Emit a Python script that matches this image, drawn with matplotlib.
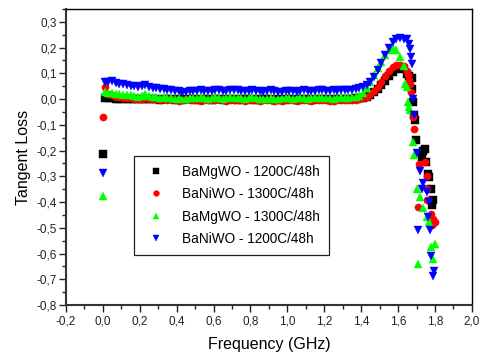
# -*- coding: utf-8 -*-
"""Tangent loss vs frequency for the four BaMgWO / BaNiWO samples."""

import matplotlib
matplotlib.use("Agg")
import matplotlib.pyplot as plt
from matplotlib.ticker import MultipleLocator, FuncFormatter

plt.rcParams["font.family"] = ["Liberation Sans", "DejaVu Sans"]

# shared sweep grid (GHz); the x=0 point of each run is kept separately
FREQ = [
    0.01, 0.03, 0.05, 0.07, 0.09, 0.11, 0.13, 0.15, 0.17, 0.19,
    0.21, 0.23, 0.25, 0.27, 0.29, 0.31, 0.33, 0.35, 0.37, 0.39,
    0.41, 0.43, 0.45, 0.47, 0.49, 0.51, 0.53, 0.55, 0.57, 0.59,
    0.61, 0.63, 0.65, 0.67, 0.69, 0.71, 0.73, 0.75, 0.77, 0.79,
    0.81, 0.83, 0.85, 0.87, 0.89, 0.91, 0.93, 0.95, 0.97, 0.99,
    1.01, 1.03, 1.05, 1.07, 1.09, 1.11, 1.13, 1.15, 1.17, 1.19,
    1.21, 1.23, 1.25, 1.27, 1.29, 1.31, 1.33, 1.35, 1.37, 1.39,
    1.41, 1.43, 1.45, 1.47, 1.49, 1.51, 1.53, 1.55, 1.57, 1.59,
    1.61, 1.63,
]

LABELS = ["BaMgWO - 1200C/48h", "BaNiWO - 1300C/48h",
          "BaMgWO - 1300C/48h", "BaNiWO - 1200C/48h"]
COLORS = ["#000000", "#ff0000", "#00ff00", "#0000ff"]
MARKERS = ["s", "o", "^", "v"]

# value at f = 0 (first point of each sweep)
START = [-0.214, -0.070, -0.378, -0.289]

MGWO_1200 = [
    0.006, 0.004, 0.003, 0.002, 0.001, 0.000, 0.001, 0.002, 0.000, -0.001,
    0.001, 0.002, 0.000, -0.001, 0.001, -0.002, 0.000, -0.001, 0.001, -0.002,
    0.000, -0.002, 0.001, -0.001, 0.000, -0.002, -0.001, 0.001, 0.000, -0.002,
    -0.001, 0.001, -0.002, 0.000, -0.001, 0.001, -0.002, 0.000, -0.001, 0.001,
    0.000, -0.002, -0.001, 0.001, 0.000, -0.001, -0.003, 0.000, -0.002, 0.001,
    -0.001, 0.000, -0.002, 0.001, 0.000, -0.001, -0.002, 0.000, 0.001, -0.001,
    0.000, -0.002, -0.001, 0.001, 0.000, 0.001, 0.000, 0.002, 0.003, 0.004,
    0.006, 0.010, 0.016, 0.026, 0.038, 0.054, 0.072, 0.090, 0.106, 0.115,
    0.120, 0.118,
]
NIWO_1300 = [
    0.047, 0.018, 0.014, 0.010, 0.008, 0.006, 0.004, 0.005, 0.002, 0.000,
    0.002, 0.004, 0.001, -0.001, 0.000, -0.002, 0.000, -0.003, -0.001, -0.004,
    -0.006, -0.003, -0.001, -0.004, -0.002, -0.003, -0.006, -0.004, -0.002, -0.005,
    -0.003, -0.001, -0.004, -0.006, -0.003, -0.002, -0.005, -0.003, -0.006, -0.004,
    -0.002, -0.004, -0.007, -0.005, -0.003, -0.005, -0.008, -0.004, -0.006, -0.003,
    -0.005, -0.003, -0.006, -0.004, -0.002, -0.004, -0.006, -0.003, -0.005, -0.002,
    -0.004, -0.006, -0.008, -0.005, -0.003, -0.005, -0.003, -0.004, -0.002, 0.000,
    0.004, 0.010, 0.018, 0.030, 0.046, 0.066, 0.088, 0.108, 0.124, 0.132,
    0.134, 0.128,
]
MGWO_1300 = [
    0.028, 0.025, 0.022, 0.020, 0.018, 0.016, 0.014, 0.015, 0.012, 0.010,
    0.012, 0.018, 0.011, 0.008, 0.007, 0.005, 0.008, 0.006, 0.004, 0.002,
    0.003, 0.000, 0.002, 0.005, 0.003, 0.004, 0.007, 0.003, 0.002, 0.005,
    0.007, 0.004, 0.002, 0.005, 0.008, 0.006, 0.003, 0.005, 0.002, 0.004,
    0.007, 0.004, 0.001, -0.001, 0.002, 0.005, 0.002, 0.000, 0.003, 0.006,
    0.004, 0.001, 0.003, 0.006, 0.004, 0.002, 0.005, 0.007, 0.004, 0.003,
    0.006, 0.004, 0.002, 0.005, 0.007, 0.004, 0.006, 0.008, 0.010, 0.013,
    0.025, 0.045, 0.068, 0.095, 0.120, 0.145, 0.170, 0.190, 0.200, 0.190,
    0.165, 0.130,
]
NIWO_1200 = [
    0.068, 0.066, 0.069, 0.063, 0.060, 0.057, 0.055, 0.052, 0.050, 0.048,
    0.052, 0.055, 0.047, 0.044, 0.042, 0.040, 0.038, 0.036, 0.035, 0.033,
    0.030, 0.025, 0.028, 0.031, 0.030, 0.032, 0.035, 0.031, 0.030, 0.033,
    0.036, 0.034, 0.031, 0.033, 0.035, 0.037, 0.034, 0.032, 0.030, 0.033,
    0.036, 0.033, 0.030, 0.028, 0.031, 0.034, 0.031, 0.029, 0.027, 0.030,
    0.033, 0.031, 0.029, 0.032, 0.035, 0.032, 0.030, 0.033, 0.036, 0.034,
    0.031, 0.033, 0.035, 0.032, 0.034, 0.036, 0.034, 0.037, 0.039, 0.042,
    0.046, 0.055, 0.065, 0.085, 0.112, 0.140, 0.170, 0.200, 0.220, 0.232,
    0.236, 0.234,
]

# scattered points past the loss peak (freq, value) per run
MGWO_1200_TAIL_F = [1.647, 1.66, 1.674, 1.677, 1.683, 1.686, 1.692, 1.697, 1.728,
                    1.736, 1.746, 1.751, 1.76, 1.769, 1.78, 1.79, 1.785]
MGWO_1200_TAIL = [0.099, 0.088, 0.080, 0.041, -0.011, -0.063, -0.083, -0.160, -0.225,
                  -0.200, -0.193, -0.245, -0.290, -0.303, -0.348, -0.394, -0.413]
NIWO_1300_TAIL_F = [1.65, 1.655, 1.66, 1.665, 1.672, 1.683, 1.686, 1.715, 1.746,
                    1.755, 1.758, 1.71, 1.755, 1.78, 1.79, 1.80, 1.785]
NIWO_1300_TAIL = [0.110, 0.093, 0.073, 0.060, 0.028, -0.070, -0.115, -0.251, -0.245,
                  -0.297, -0.348, -0.420, -0.394, -0.445, -0.465, -0.478, -0.490]
MGWO_1300_TAIL_F = [1.637, 1.646, 1.655, 1.66, 1.667, 1.679, 1.686, 1.704, 1.719,
                    1.736, 1.755, 1.769, 1.71, 1.78, 1.80, 1.787]
MGWO_1300_TAIL = [0.058, 0.047, -0.011, -0.030, -0.044, -0.167, -0.219, -0.348, -0.381,
                  -0.425, -0.459, -0.478, -0.640, -0.575, -0.562, -0.620]
NIWO_1200_TAIL_F = [1.65, 1.66, 1.665, 1.67, 1.675, 1.68, 1.685, 1.70, 1.72, 1.73,
                    1.735, 1.755, 1.76, 1.77, 1.71, 1.775, 1.78, 1.79, 1.795]
NIWO_1200_TAIL = [0.232, 0.215, 0.195, 0.165, 0.135, 0.002, -0.060, -0.210, -0.280, -0.350,
                  -0.325, -0.360, -0.460, -0.400, -0.508, -0.508, -0.608, -0.686, -0.666]

SERIES = [
    (MGWO_1200, MGWO_1200_TAIL_F, MGWO_1200_TAIL),
    (NIWO_1300, NIWO_1300_TAIL_F, NIWO_1300_TAIL),
    (MGWO_1300, MGWO_1300_TAIL_F, MGWO_1300_TAIL),
    (NIWO_1200, NIWO_1200_TAIL_F, NIWO_1200_TAIL),
]


def comma(v, _pos):
    if abs(v) < 1e-9:
        v = 0.0
    return f"{v:.1f}".replace(".", ",")


def main():
    fig = plt.figure(figsize=(4.83, 3.60), dpi=100)
    ax = fig.add_axes([0.1366, 0.1528, 0.8404, 0.8222])

    for (vals, tf, tv), start, label, color, marker in zip(SERIES, START, LABELS,
                                                           COLORS, MARKERS):
        xs = [0.0] + FREQ + tf
        ys = [start] + vals + tv
        ax.plot(xs, ys, linestyle="none", marker=marker, ms=5.2, color=color,
                mec=color, mew=0.3, label=label)

    ax.set_xlim(-0.2, 2.0)
    ax.set_ylim(-0.8, 0.35)
    ax.xaxis.set_major_locator(MultipleLocator(0.2))
    ax.xaxis.set_minor_locator(MultipleLocator(0.1))
    ax.yaxis.set_major_locator(MultipleLocator(0.1))
    ax.yaxis.set_minor_locator(MultipleLocator(0.05))
    ax.xaxis.set_major_formatter(FuncFormatter(comma))
    ax.yaxis.set_major_formatter(FuncFormatter(comma))
    ax.tick_params(which="major", direction="out", length=5, width=1.0,
                   labelsize=8.5, pad=1.5, colors="#222222")
    ax.tick_params(which="minor", direction="out", length=2.8, width=1.0,
                   colors="#222222")
    ax.tick_params(axis="x", which="major", pad=2.5)

    for side in ("left", "bottom"):
        ax.spines[side].set_linewidth(1.5)
        ax.spines[side].set_color("#333333")
    for side in ("top", "right"):
        ax.spines[side].set_linewidth(1.0)
        ax.spines[side].set_color("#000000")

    ax.set_xlabel("Frequency (GHz)", fontsize=11.5, labelpad=7)
    ax.set_ylabel("Tangent Loss", fontsize=11.5, labelpad=4)

    leg = ax.legend(loc="lower left", bbox_to_anchor=(0.167, 0.169), fontsize=9.8,
                    numpoints=1, markerscale=0.8, handlelength=2.0,
                    handletextpad=0.9, borderpad=0.65, labelspacing=0.62,
                    borderaxespad=0.0, fancybox=False, framealpha=1.0)
    leg.get_frame().set_edgecolor("#222222")
    leg.get_frame().set_linewidth(0.9)

    fig.savefig("out.png", dpi=100)


if __name__ == "__main__":
    main()
